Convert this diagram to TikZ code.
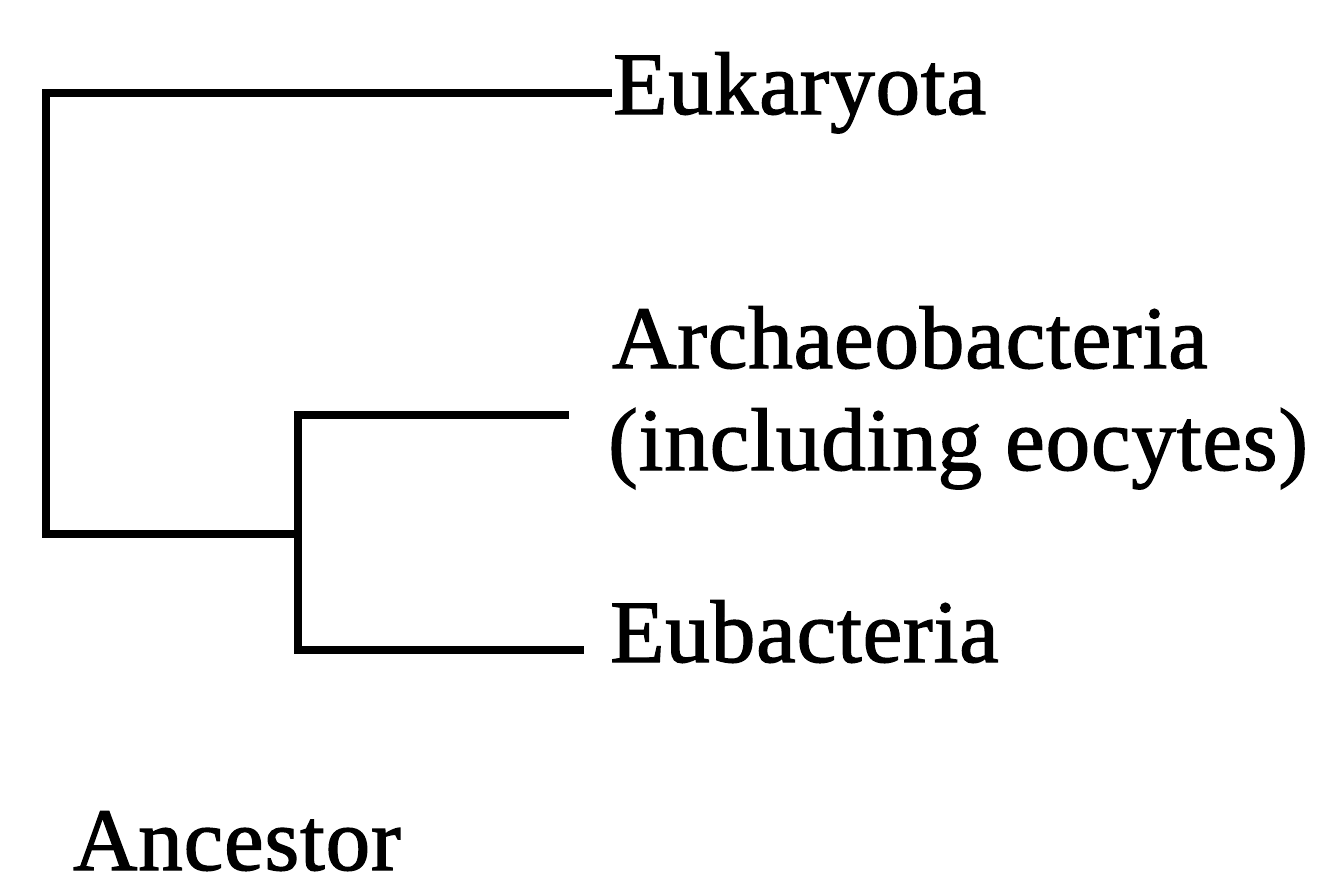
\documentclass[tikz,border=0pt]{standalone}
\usepackage{fontspec}
\setmainfont{Liberation Serif}[LetterSpace=1,FakeBold=1.5]
\begin{document}
\begin{tikzpicture}[x=1pt,y=-1pt,
  branch/.style={line width=7.5pt,line cap=rect,line join=miter},
  taxon/.style={inner sep=0pt,anchor=base west,font=\fontsize{89}{102}\selectfont}]
\useasboundingbox (0,0) rectangle (1327,880);
% junctions and branch ends
\coordinate (root) at (46,534);
\coordinate (inner) at (298,534);
\coordinate (eukend) at (608,93);
\coordinate (arcend) at (565,415);
\coordinate (eubend) at (580,650);
% labels
\node[taxon] (euk) at (613,114) {Eukaryota};
\node[taxon] (arc) at (612,368) {Archaeobacteria};
\node[taxon] (arcb) at (608,470) {(including eocytes)};
\node[taxon] (eub) at (610,662) {Eubacteria};
\node[taxon] (anc) at (73,870) {Ancestor};
% tree
\draw[branch] (root) |- (eukend);
\draw[branch] (root) -- (inner);
\draw[branch] (eubend) -| (inner) |- (arcend);
\end{tikzpicture}
\end{document}
